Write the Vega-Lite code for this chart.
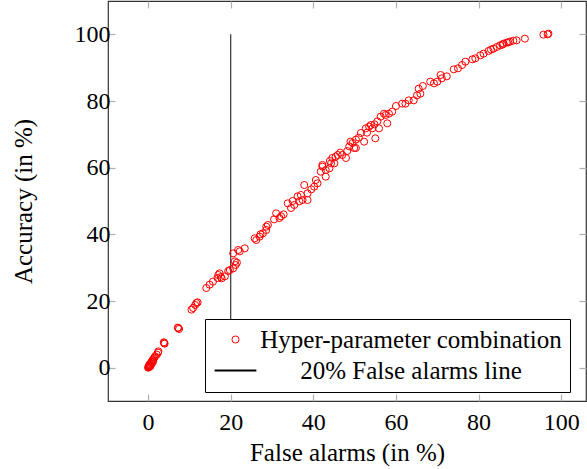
{
  "$schema": "https://vega.github.io/schema/vega-lite/v6.json",
  "width": 478,
  "height": 400,
  "autosize": {"type": "none"},
  "padding": {"left": 108, "top": 1, "right": 1, "bottom": 68},
  "config": {
    "font": "Liberation Serif",
    "view": {"stroke": "#333333", "strokeWidth": 1.2},
    "axis": {
      "grid": false,
      "domain": false,
      "tickColor": "#b0b0b0",
      "tickWidth": 1.2,
      "tickSize": -7,
      "labelFont": "Liberation Serif",
      "labelFontSize": 24,
      "labelColor": "#000000",
      "titleFont": "Liberation Serif",
      "titleFontSize": 25,
      "titleFontWeight": "normal",
      "titleColor": "#000000"
    }
  },
  "layer": [
    {
      "data": {"values": [{"x": 20, "y": 0, "y2": 100}]},
      "mark": {"type": "rule", "color": "#333333", "strokeWidth": 1.2},
      "encoding": {
        "x": {"field": "x", "type": "quantitative", "scale": {"domain": [-9.7, 106], "nice": false, "zero": false},
              "axis": {"orient": "top", "values": [0, 20, 40, 60, 80, 100], "labels": false, "title": null}},
        "y": {"field": "y", "type": "quantitative", "scale": {"domain": [-10, 110], "nice": false, "zero": false},
              "axis": {"orient": "right", "values": [0, 20, 40, 60, 80, 100], "labels": false, "title": null}},
        "y2": {"field": "y2"}
      }
    },
    {
      "data": {"values": [
        {"x":0,"y":0},{"x":0.1,"y":0.2},{"x":0.2,"y":0.5},{"x":0.3,"y":0.3},{"x":0.4,"y":0.8},{"x":0.5,"y":1.1},{"x":0.6,"y":0.6},{"x":0.7,"y":1.4},{"x":0.8,"y":1.7},{"x":0.9,"y":1.2},{"x":1.0,"y":2.0},{"x":1.1,"y":2.3},{"x":1.2,"y":1.8},{"x":1.3,"y":2.6},{"x":1.5,"y":3.0},{"x":0.2,"y":0.1},{"x":0.5,"y":0.4},{"x":0.3,"y":0.9},{"x":1.7,"y":3.4},{"x":2.1,"y":3.9},{"x":2.5,"y":4.9},{"x":2.4,"y":4.5},{"x":3.9,"y":7.4},{"x":4.0,"y":7.2},{"x":3.8,"y":7.6},{"x":7.3,"y":11.9},{"x":7.5,"y":11.6},{"x":7.2,"y":12.0},
        {"x":10.9,"y":17.9},{"x":11.7,"y":19.4},{"x":10.5,"y":17.4},{"x":11.4,"y":18.8},{"x":12.0,"y":19.6},{"x":14.1,"y":23.9},{"x":14.9,"y":24.9},{"x":15.7,"y":25.8},{"x":17.0,"y":27.8},{"x":17.8,"y":26.8},{"x":17.3,"y":28.3},{"x":18.6,"y":27.4},{"x":17.6,"y":27.2},{"x":16.8,"y":26.9},{"x":19.4,"y":29.0},{"x":19.8,"y":29.3},{"x":20.6,"y":29.8},{"x":21.2,"y":30.8},{"x":21.5,"y":31.5},{"x":21.0,"y":31.9},{"x":20.6,"y":34.3},{"x":22.2,"y":34.9},{"x":23.4,"y":35.8},{"x":21.8,"y":35.3},
        {"x":25.8,"y":38.8},{"x":26.2,"y":38.3},{"x":27.0,"y":39.3},{"x":27.8,"y":40.3},{"x":28.6,"y":41.3},{"x":29.0,"y":42.8},{"x":28.6,"y":42.3},{"x":27.2,"y":40.0},{"x":31.0,"y":46.3},{"x":31.8,"y":44.9},{"x":32.2,"y":45.4},{"x":33.8,"y":49.3},{"x":34.6,"y":47.9},{"x":35.4,"y":48.8},{"x":36.2,"y":51.4},{"x":36.6,"y":49.9},{"x":37.4,"y":50.3},{"x":38.6,"y":50.3},{"x":37.8,"y":54.8},{"x":38.6,"y":52.3},{"x":37.0,"y":51.8},
        {"x":40.2,"y":54.3},{"x":41.0,"y":55.3},{"x":40.6,"y":56.3},{"x":41.8,"y":58.8},{"x":42.2,"y":60.8},{"x":43.0,"y":57.3},{"x":43.9,"y":59.8},{"x":45.1,"y":61.3},{"x":45.4,"y":63.3},{"x":42.2,"y":60.3},{"x":43.0,"y":59.3},{"x":44.3,"y":61.3},{"x":45.9,"y":63.8},{"x":47.0,"y":63.8},{"x":47.9,"y":62.9},{"x":48.7,"y":66.4},{"x":49.5,"y":67.4},{"x":50.3,"y":65.9},{"x":50.3,"y":68.4},{"x":51.5,"y":70.4},{"x":52.3,"y":67.8},{"x":52.7,"y":71.8},{"x":53.5,"y":72.3},{"x":54.3,"y":71.8},{"x":55.0,"y":68.8},{"x":55.5,"y":73.9},{"x":56.3,"y":75.3},{"x":57.1,"y":76.2},{"x":57.9,"y":73.3},{"x":58.3,"y":76.2},{"x":59.1,"y":76.8},
        {"x":61.5,"y":79.2},{"x":62.3,"y":79.2},{"x":64.3,"y":80.2},{"x":65.1,"y":81.7},{"x":65.5,"y":83.7},{"x":65.9,"y":82.2},{"x":68.3,"y":85.8},{"x":69.2,"y":85.3},{"x":70.0,"y":85.8},{"x":70.8,"y":87.8},{"x":71.1,"y":86.8},{"x":72.3,"y":87.4},{"x":74.0,"y":89.5},{"x":75.0,"y":89.8},{"x":76.0,"y":90.8},{"x":76.8,"y":91.8},{"x":79.2,"y":92.8},{"x":80.4,"y":93.7},{"x":81.2,"y":94.2},{"x":82.4,"y":95.0},{"x":83.6,"y":95.7},{"x":84.4,"y":96.2},{"x":85.2,"y":96.7},{"x":86.0,"y":97.2},{"x":86.8,"y":97.5},{"x":87.6,"y":97.8},{"x":88.4,"y":98.1},{"x":89.2,"y":98.2},{"x":91.2,"y":98.7},{"x":95.7,"y":99.9},{"x":96.7,"y":100},{"x":96.9,"y":100.2},
        {"x":44.6,"y":62.9},{"x":49.0,"y":67.8},{"x":49.9,"y":65.9},{"x":53.9,"y":72.8},{"x":55.9,"y":71.8},{"x":57.5,"y":75.8},{"x":63.1,"y":80.2},{"x":46.5,"y":64.5},{"x":48.2,"y":65.0},{"x":51.0,"y":69.0},{"x":53.0,"y":70.5},{"x":54.8,"y":73.0},{"x":30.5,"y":44.5},{"x":32.8,"y":46.0},{"x":35.0,"y":50.0},{"x":39.5,"y":53.5},{"x":44.0,"y":62.0},{"x":60.0,"y":78.5},{"x":66.5,"y":84.5},{"x":78.5,"y":92.5},{"x":83.0,"y":95.4},{"x":85.8,"y":96.9},{"x":87.2,"y":97.6}
      ]},
      "mark": {"type": "point", "filled": false, "size": 50, "strokeWidth": 1, "opacity": 1},
      "encoding": {
        "x": {"field": "x", "type": "quantitative",
              "axis": {"orient": "bottom", "values": [0, 20, 40, 60, 80, 100], "labelPadding": 16, "title": "False alarms (in %)", "titlePadding": 6}},
        "y": {"field": "y", "type": "quantitative",
              "axis": {"orient": "left", "values": [0, 20, 40, 60, 80, 100], "labelPadding": 5, "title": "Accuracy (in %)", "titlePadding": 38}},
        "color": {"datum": "Hyper-parameter combination", "type": "nominal",
                  "scale": {"domain": ["Hyper-parameter combination", "20% False alarms line"], "range": ["#ff0000", "#000000"]},
                  "legend": {"title": null, "orient": "none", "legendX": 97, "legendY": 318,
                             "fillColor": "#ffffff", "strokeColor": "#000000", "cornerRadius": 0,
                             "padding": 8, "rowPadding": 5, "symbolSize": 50, "symbolOffset": 10,
                             "labelFont": "Liberation Serif", "labelFontSize": 25, "labelColor": "#000000",
                             "labelAlign": "center", "labelOffset": 163, "labelLimit": 0}},
        "shape": {"datum": "Hyper-parameter combination", "type": "nominal",
                  "scale": {"domain": ["Hyper-parameter combination", "20% False alarms line"], "range": ["circle", "M-5.9,0H5.9"]}},
        "strokeWidth": {"datum": "Hyper-parameter combination", "type": "nominal",
                  "scale": {"domain": ["Hyper-parameter combination", "20% False alarms line"], "range": [1, 2]}}
      }
    }
  ]
}
